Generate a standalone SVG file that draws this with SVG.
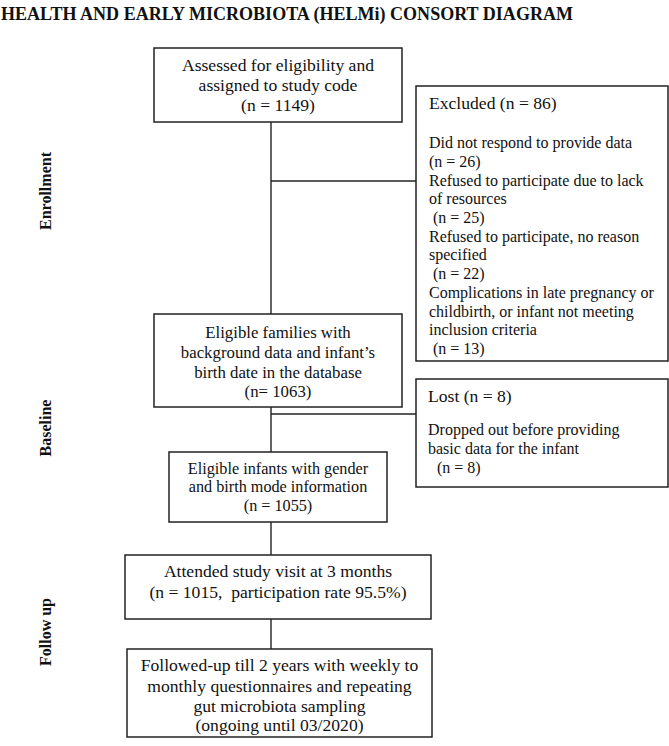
<svg xmlns="http://www.w3.org/2000/svg" width="669" height="746" viewBox="0 0 669 746">
<style>
.box{fill:#fff;stroke:#222;stroke-width:1.5}
.ln{stroke:#222;stroke-width:1.4;fill:none}
text{font-family:"Liberation Serif","Times New Roman",serif;fill:#111}
.c{text-anchor:middle}
.t17{font-size:17.6px}
.t16{font-size:16px}
.t167{font-size:16.8px}
.t162{font-size:16.2px}
.side{font-size:16px;font-weight:bold;text-anchor:middle}
</style>
<rect width="669" height="746" fill="#fff"/>
<text x="1" y="20" font-size="18" font-weight="bold" textLength="572" lengthAdjust="spacingAndGlyphs">HEALTH AND EARLY MICROBIOTA (HELMi) CONSORT DIAGRAM</text>

<g id="labels">
<text class="side" transform="translate(51,191) rotate(-90)">Enrollment</text>
<text class="side" transform="translate(51,428) rotate(-90)">Baseline</text>
<text class="side" transform="translate(51,632) rotate(-90)">Follow up</text>
</g>

<g id="connectors">
<line class="ln" x1="271" y1="122" x2="271" y2="314"/>
<line class="ln" x1="271" y1="181" x2="416" y2="181"/>
<line class="ln" x1="271" y1="407" x2="271" y2="452"/>
<line class="ln" x1="271" y1="414" x2="416" y2="414"/>
<line class="ln" x1="271" y1="522" x2="271" y2="555"/>
<line class="ln" x1="271" y1="619" x2="271" y2="649"/>
</g>

<g id="assessed">
<rect class="box" x="154" y="48" width="248" height="74"/>
<text class="c t17" x="278" y="71">Assessed for eligibility and</text>
<text class="c t17" x="278" y="91">assigned to study code</text>
<text class="c t17" x="278" y="111">(n = 1149)</text>
</g>

<g id="excluded">
<rect class="box" x="416" y="86" width="252" height="275"/>
<text class="t17" x="429" y="109">Excluded (n = 86)</text>
<text class="t16" x="429" y="148">Did not respond to provide data</text>
<text class="t16" x="429" y="167">(n = 26)</text>
<text class="t16" x="429" y="186">Refused to participate due to lack</text>
<text class="t16" x="429" y="204">of resources</text>
<text class="t16" x="433" y="223">(n = 25)</text>
<text class="t16" x="429" y="242">Refused to participate, no reason</text>
<text class="t16" x="429" y="260">specified</text>
<text class="t16" x="433" y="279">(n = 22)</text>
<text class="t16" x="429" y="298">Complications in late pregnancy or</text>
<text class="t16" x="429" y="317">childbirth, or infant not meeting</text>
<text class="t16" x="429" y="335">inclusion criteria</text>
<text class="t16" x="433" y="354">(n = 13)</text>
</g>

<g id="eligible-families">
<rect class="box" x="154" y="314" width="248" height="93"/>
<text class="c t167" x="278" y="338">Eligible families with</text>
<text class="c t167" x="278" y="358">background data and infant’s</text>
<text class="c t167" x="278" y="378">birth date in the database</text>
<text class="c t167" x="278" y="397">(n= 1063)</text>
</g>

<g id="lost">
<rect class="box" x="416" y="379" width="252" height="108"/>
<text class="t17" x="428" y="402">Lost (n = 8)</text>
<text class="t16" x="428" y="435">Dropped out before providing</text>
<text class="t16" x="428" y="454">basic data for the infant</text>
<text class="t16" x="437" y="473">(n = 8)</text>
</g>

<g id="eligible-infants">
<rect class="box" x="169" y="452" width="218" height="70"/>
<text class="c t162" x="278" y="474">Eligible infants with gender</text>
<text class="c t162" x="278" y="492">and birth mode information</text>
<text class="c t162" x="278" y="511">(n = 1055)</text>
</g>

<g id="attended">
<rect class="box" x="125" y="555" width="306" height="64"/>
<text class="c t17" x="278" y="577">Attended study visit at 3 months</text>
<text class="c t17" x="278" y="598" xml:space="preserve">(n = 1015,  participation rate 95.5%)</text>
</g>

<g id="followed">
<rect class="box" x="127" y="649" width="305" height="88"/>
<text class="c t17" x="279.5" y="671">Followed-up till 2 years with weekly to</text>
<text class="c t17" x="279.5" y="692">monthly questionnaires and repeating</text>
<text class="c t17" x="279.5" y="712">gut microbiota sampling</text>
<text class="c t17" x="279.5" y="731">(ongoing until 03/2020)</text>
</g>
</svg>
